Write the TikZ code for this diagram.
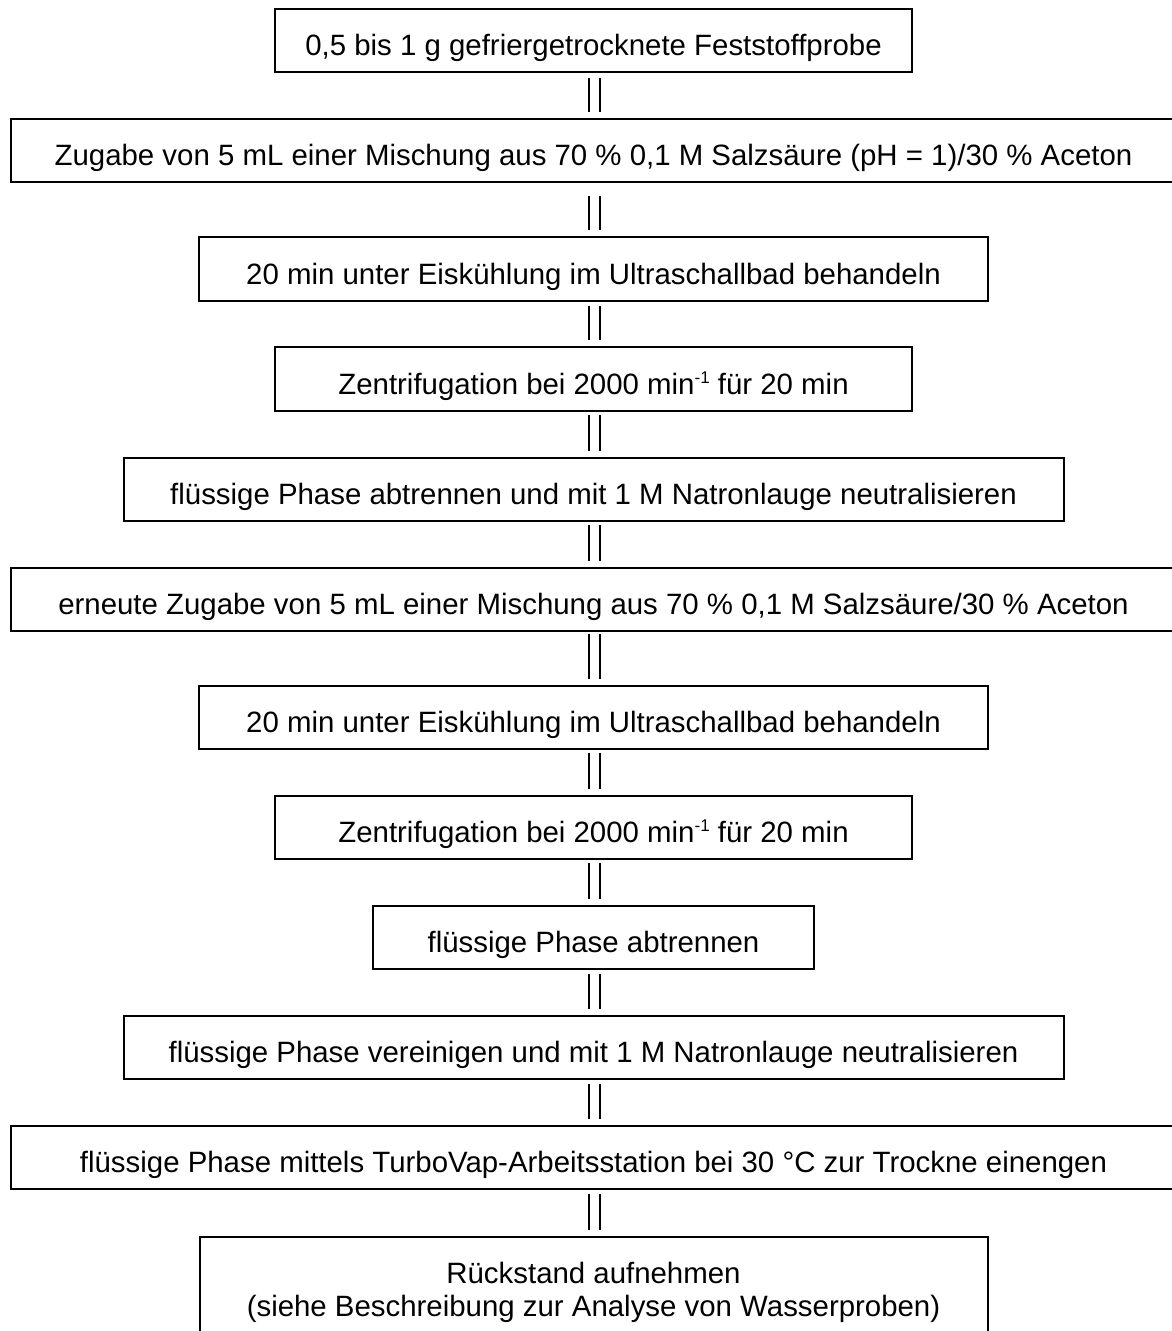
\documentclass[tikz,border=0pt]{standalone}
\usepackage{fontspec}
\setmainfont{Liberation Sans}
\newcommand\supm[1]{\raisebox{11pt}{\fontsize{17}{17}\selectfont #1}}
\newcommand\dlink[3]{%
  \draw[dl] ([xshift=-4.2pt,yshift=-#3pt]#1.south) -- ([xshift=-4.2pt,yshift=6pt]#2.north);
  \draw[dl] ([xshift=6.8pt,yshift=-#3pt]#1.south) -- ([xshift=6.8pt,yshift=6pt]#2.north);}
\begin{document}
\begin{tikzpicture}[x=1pt,y=-1pt,
  stepbox/.style={draw=black, line width=2pt, inner sep=0pt, minimum height=63.3pt,
    text height=30.4pt, text depth=0pt, font=\fontsize{29.4}{33.6}\selectfont},
  txt/.style={inner sep=0pt, anchor=base, font=\fontsize{29.4}{33.6}\selectfont},
  dl/.style={draw=black, line width=1.8pt}]
\useasboundingbox[fill=white] (0,0) rectangle (1171,1331);
\node[stepbox, minimum width=637pt] (b1) at (593.5,40.5) {0,5 bis 1 g gefriergetrocknete Feststoffprobe};
\node[stepbox, minimum width=1165pt] (b2) at (593.5,150.5) {Zugabe von 5 mL einer Mischung aus 70 \% 0,1 M Salzsäure (pH = 1)/30 \% Aceton};
\node[stepbox, minimum width=789pt] (b3) at (593.5,269) {20 min unter Eiskühlung im Ultraschallbad behandeln};
\node[stepbox, minimum width=637pt] (b4) at (593.5,379) {Zentrifugation bei 2000 min\supm{-1} für 20 min};
\node[stepbox, minimum width=940pt] (b5) at (593.5,489.3) {flüssige Phase abtrennen und mit 1 M Natronlauge neutralisieren};
\node[stepbox, minimum width=1165pt] (b6) at (593.5,599.3) {erneute Zugabe von 5 mL einer Mischung aus 70 \% 0,1 M Salzsäure/30 \% Aceton};
\node[stepbox, minimum width=789pt] (b7) at (593.5,717.3) {20 min unter Eiskühlung im Ultraschallbad behandeln};
\node[stepbox, minimum width=637pt] (b8) at (593.5,827.3) {Zentrifugation bei 2000 min\supm{-1} für 20 min};
\node[stepbox, minimum width=441pt] (b9) at (593.5,937.3) {flüssige Phase abtrennen};
\node[stepbox, minimum width=940pt] (b10) at (593.5,1047.5) {flüssige Phase vereinigen und mit 1 M Natronlauge neutralisieren};
\node[stepbox, minimum width=1165pt] (b11) at (593.5,1157.5) {flüssige Phase mittels TurboVap-Arbeitsstation bei 30 °C zur Trockne einengen};
\node[draw=black, line width=2pt, inner sep=0pt, minimum width=788pt, minimum height=96pt] (b12) at (593.5,1284.7) {};
\node[txt] (t12a) at (593.5,1283) {Rückstand aufnehmen};
\node[txt] (t12b) at (593.5,1316.6) {(siehe Beschreibung zur Analyse von Wasserproben)};
\dlink{b1}{b2}{5.3}
\dlink{b2}{b3}{13}
\dlink{b3}{b4}{4}
\dlink{b4}{b5}{3.3}
\dlink{b5}{b6}{3.3}
\dlink{b6}{b7}{2.3}
\dlink{b7}{b8}{2.7}
\dlink{b8}{b9}{3.3}
\dlink{b9}{b10}{4.3}
\dlink{b10}{b11}{4.3}
\dlink{b11}{b12}{4.3}
\end{tikzpicture}
\end{document}
